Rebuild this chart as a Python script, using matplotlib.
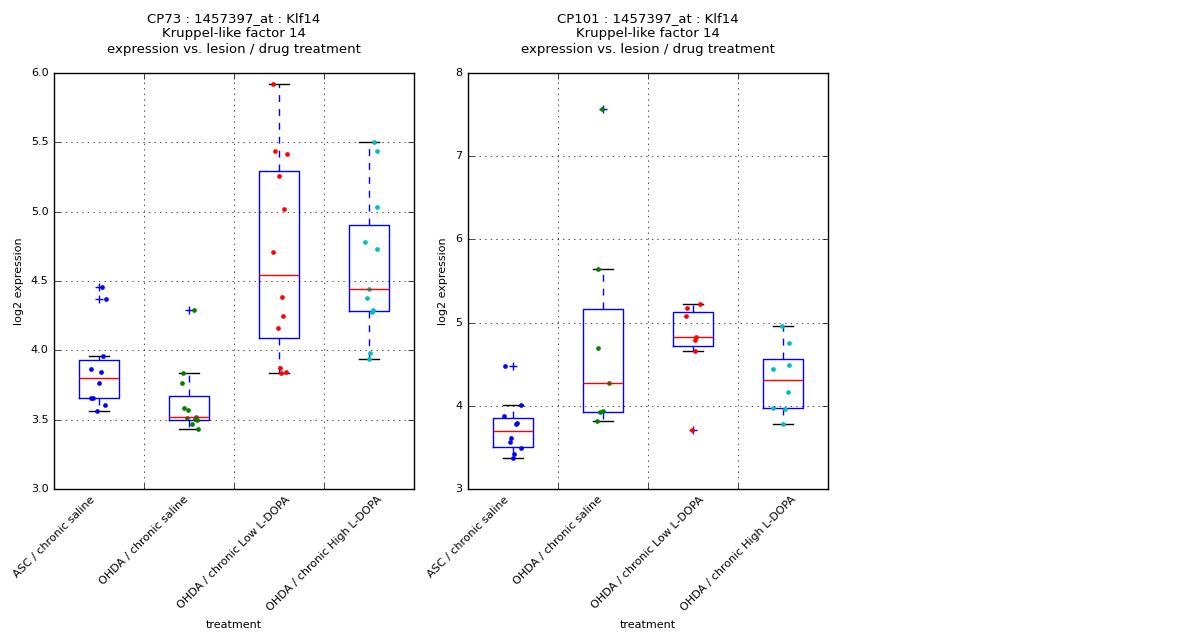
import numpy as np
import matplotlib
matplotlib.use('Agg')
import matplotlib.pyplot as plt

groups = ['ASC / chronic saline', 'OHDA / chronic saline',
          'OHDA / chronic Low L-DOPA', 'OHDA / chronic High L-DOPA']
colors = ['b', 'g', 'r', 'c']

# CP73 values per group
cp73_asc = [4.459, 4.367, 3.956, 3.863, 3.841, 3.762, 3.656, 3.656, 3.603, 3.560]
cp73_ohda_sal = [4.288, 3.834, 3.762, 3.581, 3.567, 3.520, 3.495, 3.505, 3.510, 3.466, 3.435]
cp73_low = [5.923, 5.435, 5.413, 5.254, 5.016, 4.706, 4.382, 4.245, 4.158, 3.870, 3.841, 3.834]
cp73_high = [5.500, 5.435, 5.031, 4.778, 4.728, 4.440, 4.375, 4.288, 4.274, 3.978, 3.935]

# CP101 values per group
cp101_asc = [4.474, 4.005, 3.873, 3.789, 3.777, 3.608, 3.560, 3.488, 3.416, 3.368]
cp101_ohda_sal = [7.571, 5.640, 4.695, 4.278, 3.921, 3.933, 3.813]
cp101_low = [5.227, 5.171, 5.075, 4.822, 4.786, 4.654, 3.704]
cp101_high = [4.963, 4.758, 4.494, 4.446, 4.169, 3.977, 3.965, 3.785]

# horizontal jitter of the dots
jit73 = [[0.037, 0.078, 0.044, -0.089, 0.022, 0.0, -0.085, -0.07, 0.067, -0.019],
         [0.059, -0.070, -0.081, -0.059, -0.007, 0.081, 0.093, 0.063, -0.019, 0.037, 0.096],
         [-0.063, -0.048, 0.093, 0.004, 0.052, -0.070, 0.030, 0.041, -0.007, 0.015, 0.074, 0.019],
         [0.059, 0.085, 0.085, -0.041, 0.085, -0.004, -0.026, 0.041, 0.037, 0.007, -0.004]]
jit101 = [[-0.089, 0.089, -0.1, 0.044, 0.033, -0.026, -0.033, 0.085, 0.011, 0.0],
          [-0.007, -0.052, -0.059, 0.063, -0.037, 0.004, -0.070],
          [0.081, -0.063, -0.081, 0.037, 0.019, 0.026, -0.015],
          [-0.015, 0.063, 0.063, -0.107, 0.059, -0.107, 0.026, 0.004]]

plt.style.use('classic')
plt.rcParams['font.family'] = ['DejaVu Sans']
plt.rcParams['font.size'] = 8
plt.rcParams['figure.facecolor'] = 'white'


def draw_panel(ax, data, jitter, title, ylim, yticks, yfmt):
    ax.boxplot(data,
               flierprops=dict(marker='+', color='b', markeredgecolor='b', markersize=6),
               whiskerprops=dict(color='b', linestyle=(0, (5, 5))))
    for i, (vals, jx) in enumerate(zip(data, jitter)):
        xs = (i + 1) + np.array(jx)
        ax.plot(xs, vals, 'o', color=colors[i], mec=colors[i], ms=2.8)
    ax.set_xlim(0.5, 4.5)
    ax.set_ylim(*ylim)
    ax.set_yticks(yticks)
    ax.set_yticklabels([yfmt.format(t) for t in yticks], fontsize=8)
    # labels sit on the group boundaries (0.5, 1.5, ...) like the original
    ax.set_xticks(np.arange(len(groups)) + 0.5)
    ax.set_xticklabels(groups, rotation=45, fontsize=8)
    ax.grid(True)
    ax.set_xlabel('treatment', fontsize=8)
    ax.set_ylabel('log2 expression', fontsize=8)
    ax.set_title(title, fontsize=9.5, pad=14.5, linespacing=1.25)


fig = plt.figure(figsize=(12, 6.4), dpi=100)
ax1 = fig.add_axes([0.045, 0.236, 0.3, 0.65])
ax2 = fig.add_axes([0.39, 0.236, 0.3, 0.65])

draw_panel(ax1, [cp73_asc, cp73_ohda_sal, cp73_low, cp73_high], jit73,
           'CP73 : 1457397_at : Klf14\nKruppel-like factor 14\nexpression vs. lesion / drug treatment',
           (3.0, 6.0), [3.0, 3.5, 4.0, 4.5, 5.0, 5.5, 6.0], '{:.1f}')
draw_panel(ax2, [cp101_asc, cp101_ohda_sal, cp101_low, cp101_high], jit101,
           'CP101 : 1457397_at : Klf14\nKruppel-like factor 14\nexpression vs. lesion / drug treatment',
           (3, 8), [3, 4, 5, 6, 7, 8], '{:d}')

fig.savefig('out.png', facecolor='white')
